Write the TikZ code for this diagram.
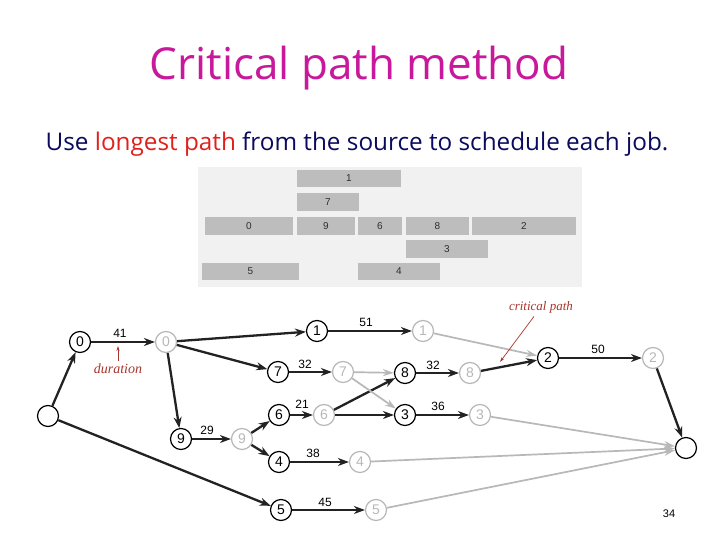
\documentclass[tikz,border=0pt]{standalone}
\usepackage{fontspec}
\setmainfont{Liberation Serif}
\setsansfont{Liberation Sans}
\newfontfamily\headfont{Open Sans}
\usetikzlibrary{arrows.meta}
\definecolor{ttlMag}{HTML}{C8189B}
\definecolor{subNavy}{HTML}{0A0A5E}
\definecolor{hiRed}{HTML}{E0201A}
\definecolor{panelG}{HTML}{F1F1F1}
\definecolor{barG}{HTML}{BDBDBE}
\definecolor{barTxt}{HTML}{2E2E2E}
\definecolor{nodeG}{HTML}{B8B8B8}
\definecolor{edgeD}{HTML}{222222}
\definecolor{noteR}{HTML}{A8352B}
\tikzset{
  jb/.style={circle, draw=black, line width=1.2pt, minimum size=21pt, inner sep=0pt,
    font=\fontsize{14}{14}\sffamily},
  jg/.style={jb, draw=nodeG, text=nodeG},
  ep/.style={circle, draw=black, line width=1.2pt, minimum size=21pt, inner sep=0pt},
  bar/.style={fill=barG, inner sep=0pt, text=barTxt, font=\fontsize{10}{10}\sffamily},
  A/.style={-{Stealth[length=11pt,width=8pt]}, line width=2.3pt, draw=edgeD},
  Ag/.style={-{Stealth[length=11pt,width=7pt]}, line width=1.7pt, draw=nodeG},
  wt/.style={font=\fontsize{12}{12}\sffamily},
  note/.style={font=\itshape, text=noteR},
}
\begin{document}
\begin{tikzpicture}[x=1pt, y=-1pt]
\useasboundingbox[fill=white] (0,0) rectangle (720,540);

% ── heading ─────────────────────────────────────────────────────────────────
\node[font=\fontsize{44}{44}\headfont, text=ttlMag] (title) at (359,68) {Critical path method};
\node[font=\fontsize{24.3}{24.3}\headfont, text=subNavy] (lead) at (357,144)
  {Use \textcolor{hiRed}{longest path} from the source to schedule each job.};

% ── schedule (bars) ─────────────────────────────────────────────────────────
\fill[panelG] (198,167) rectangle (582,287);
\node[bar, minimum width=104pt, minimum height=17pt] (b1) at (349,178.5) {1};
\node[bar, minimum width=62pt, minimum height=18pt] (b7) at (328,202) {7};
\node[bar, minimum width=88pt, minimum height=18pt] (b0) at (249,226) {0};
\node[bar, minimum width=58pt, minimum height=18pt] (b9) at (326,226) {9};
\node[bar, minimum width=44pt, minimum height=18pt] (b6) at (380,226) {6};
\node[bar, minimum width=63pt, minimum height=18pt] (b8) at (437.5,226) {8};
\node[bar, minimum width=104pt, minimum height=18pt] (b2) at (524,226) {2};
\node[bar, minimum width=82pt, minimum height=18pt] (b3) at (447,249) {3};
\node[bar, minimum width=97pt, minimum height=17pt] (b5) at (250.5,271.5) {5};
\node[bar, minimum width=82pt, minimum height=17pt] (b4) at (399,271.5) {4};

% ── job graph: start / end vertex of each job ───────────────────────────────
\node[ep] (src) at (48,416) {};
\node[ep] (snk) at (686,448) {};
\node[jb] (s0) at (80,342) {0};  \node[jg] (e0) at (166,342) {0};
\node[jb] (s1) at (317,331) {1}; \node[jg] (e1) at (423,331) {1};
\node[jb] (s7) at (278,372) {7}; \node[jg] (e7) at (343,372) {7};
\node[jb] (s8) at (405,373) {8}; \node[jg] (e8) at (470,373) {8};
\node[jb] (s6) at (279,415) {6}; \node[jg] (e6) at (324,415) {6};
\node[jb] (s3) at (405,415) {3}; \node[jg] (e3) at (480,415) {3};
\node[jb] (s9) at (181,439) {9}; \node[jg] (e9) at (242,439) {9};
\node[jb] (s4) at (279,462) {4}; \node[jg] (e4) at (360,462) {4};
\node[jb] (s5) at (281,510) {5}; \node[jg] (e5) at (376,510) {5};
\node[jb] (s2) at (548,358) {2}; \node[jg] (e2) at (653,358) {2};

% job edges (duration)
\draw[A] (s0) -- (e0); \node[wt] (w0) at (120,333) {41};
\draw[A] (s1) -- (e1); \node[wt] (w1) at (366,322) {51};
\draw[A] (s7) -- (e7); \node[wt] (w7) at (305,364) {32};
\draw[A] (s8) -- (e8); \node[wt] (w8) at (433,365) {32};
\draw[A] (s6) -- (e6); \node[wt] (w6) at (302,404) {21};
\draw[A] (s3) -- (e3); \node[wt] (w3) at (438,406) {36};
\draw[A] (s9) -- (e9); \node[wt] (w9) at (207,430) {29};
\draw[A] (s4) -- (e4); \node[wt] (w4) at (313,453) {38};
\draw[A] (s5) -- (e5); \node[wt] (w5) at (325,502) {45};
\draw[A] (s2) -- (e2); \node[wt] (w2) at (598,349) {50};

% precedence + source/sink edges
\draw[A] (src) -- (s0);
\draw[A] (src) -- (s5);
\draw[A] (e0) -- (s1);
\draw[A] (e0) -- (s7);
\draw[A] (e0) -- (s9);
\draw[A] (e9) -- (s6);
\draw[A] (e9) -- (s4);
\draw[A] (e6) -- (s8);
\draw[A] (e6) -- (s3);
\draw[A] (e8) -- (s2);
\draw[A] (e2) -- (snk);
\draw[Ag] (e7) -- (s8);
\draw[Ag] (e7) -- (s3);
\draw[Ag] (e1) -- (s2);
\draw[Ag] (e3) -- (snk);
\draw[Ag] (e4) -- (snk);
\draw[Ag] (e5) -- (snk);

% ── call-outs ───────────────────────────────────────────────────────────────
\node[note, font=\fontsize{14}{14}\itshape] (dur) at (118,369) {duration};
\coordinate (durTip) at (118,346);
\draw[-{Stealth[length=5pt,width=3pt]}, draw=noteR, line width=0.7pt] (dur) -- (durTip);
\node[note, font=\fontsize{13}{13}\itshape] (cpath) at (541,307) {critical path};
\coordinate (cpTip) at (500,362);
\draw[-{Stealth[length=5pt,width=3pt]}, draw=noteR, line width=0.7pt] (cpath) -- (cpTip);

\node[font=\fontsize{11}{11}\sffamily] (pg) at (669,514) {34};
\end{tikzpicture}
\end{document}
